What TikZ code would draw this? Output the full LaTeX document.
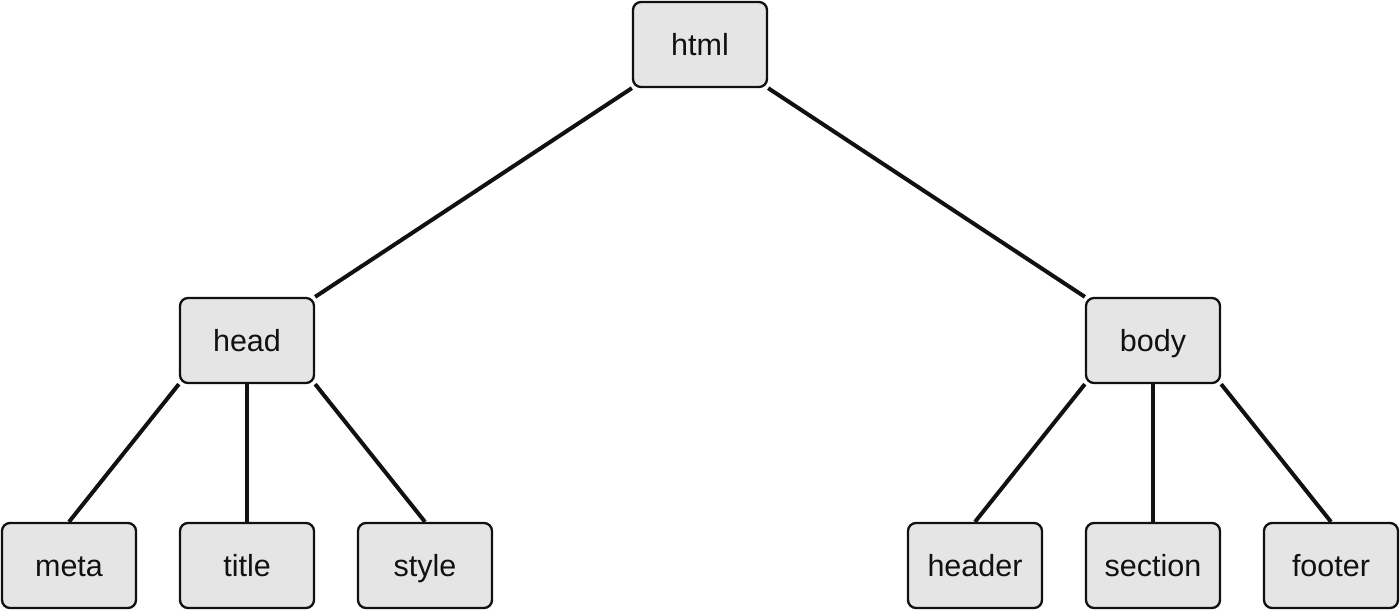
\documentclass[tikz,border=0pt]{standalone}
\usepackage{fontspec}
\setmainfont{Liberation Sans}
\usetikzlibrary{backgrounds}
\definecolor{boxfill}{HTML}{E5E5E5}
\definecolor{ink}{HTML}{111111}
\begin{document}
\begin{tikzpicture}[x=1pt,y=-1pt,
  tagbox/.style={draw=ink, fill=boxfill, line width=2.3pt, rounded corners=8pt,
    minimum width=134pt, minimum height=85pt, inner sep=0pt,
    text height=22pt, text depth=0pt,
    font=\fontsize{30.5}{34}\selectfont, text=ink},
  edge/.style={draw=ink, line width=4pt}]
\useasboundingbox (0,0) rectangle (1400,611);
\node[tagbox] (html) at (700,44.5) {html};
\node[tagbox] (head) at (247,340.5) {head};
\node[tagbox] (body) at (1153,340.5) {body};
\node[tagbox] (meta) at (69,565.5) {meta};
\node[tagbox] (title) at (247,565.5) {title};
\node[tagbox] (style) at (425,565.5) {style};
\node[tagbox] (header) at (975,565.5) {header};
\node[tagbox] (section) at (1153,565.5) {section};
\node[tagbox] (footer) at (1331,565.5) {footer};
\begin{scope}[on background layer]
\draw[edge] (html.south west) -- (head.north east);
\draw[edge] (html.south east) -- (body.north west);
\draw[edge] (head.south west) -- (meta.north);
\draw[edge] (head.south) -- (title.north);
\draw[edge] (head.south east) -- (style.north);
\draw[edge] (body.south west) -- (header.north);
\draw[edge] (body.south) -- (section.north);
\draw[edge] (body.south east) -- (footer.north);
\end{scope}
\end{tikzpicture}
\end{document}
